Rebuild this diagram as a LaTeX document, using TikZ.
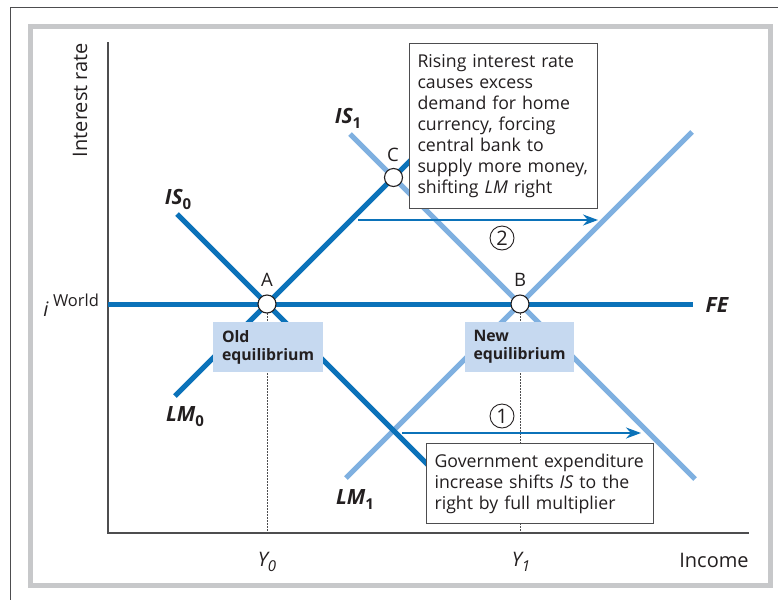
\documentclass[tikz,border=0pt]{standalone}
\usepackage{fontspec}
\setmainfont{Open Sans}
\usetikzlibrary{arrows.meta}
\definecolor{dkblue}{HTML}{0B72B9}
\definecolor{ltblue}{HTML}{7FB0E0}
\definecolor{eqfill}{HTML}{C6D9F0}
\definecolor{txt}{HTML}{231F20}
\definecolor{framegray}{HTML}{C7C8CA}
\definecolor{axisgray}{HTML}{4D4D4F}
\newcommand{\subidx}[1]{{\fontsize{15}{15}\selectfont\raisebox{-5pt}{#1}}}
\newcommand{\subup}[1]{{\fontsize{15}{15}\selectfont\upshape\raisebox{-5pt}{#1}}}
\begin{document}
\begin{tikzpicture}[x=1pt,y=-1pt,
  darkline/.style={dkblue, line width=5pt},
  lightline/.style={ltblue, line width=5pt},
  axisline/.style={axisgray, line width=1.2pt},
  guide/.style={axisgray, line width=0.9pt, dash pattern=on 1.5pt off 1.5pt},
  shiftarrow/.style={dkblue, line width=1.8pt, -{Stealth[length=15pt,width=11pt]}},
  eqpt/.style={circle, draw=txt, line width=1.1pt, fill=white, minimum size=18pt, inner sep=0pt},
  ptlab/.style={text=txt, font=\fontsize{18.5}{20}\selectfont},
  axlab/.style={text=txt, font=\fontsize{20}{22}\selectfont},
  curvelab/.style={text=txt, font=\fontsize{21}{24}\selectfont\bfseries\itshape},
  notebox/.style={draw=axisgray, line width=1.1pt, fill=white, text=txt, align=left, inner sep=8pt, font=\fontsize{17.7}{21}\selectfont},
  eqbox/.style={fill=eqfill, text=txt, align=left, inner sep=0pt, font=\fontsize{15.8}{18}\selectfont\bfseries},
  numcirc/.style={circle, draw=txt, line width=0.9pt, minimum size=24pt, inner sep=0pt, text=txt, font=\fontsize{20}{20}\selectfont}
]
\useasboundingbox (0,0) rectangle (778,600);
% frames
\draw[axisgray, line width=0.8pt] (778,7) -- (10,7) -- (10,600);
\draw[framegray, line width=5pt] (30,26) rectangle (770,585);
% axes
\coordinate (ytop) at (108,42);
\coordinate (orig) at (108,533);
\coordinate (xend) at (749,533);
\draw[axisline] (ytop) -- (orig) -- (xend);
% key points
\coordinate (Apos) at (267,304);
\coordinate (Bpos) at (520,304);
\coordinate (Cpos) at (393.5,177.5);
\coordinate (Y0ax) at (267,533);
\coordinate (Y1ax) at (520,533);
\draw[guide] (Apos) -- (Y0ax);
\draw[guide] (Bpos) -- (Y1ax);
% curves
\coordinate (IS1a) at (350,134);
\coordinate (IS1b) at (695,479);
\coordinate (LM1a) at (346,478);
\coordinate (LM1b) at (692,132);
\coordinate (IS0a) at (177,214);
\coordinate (IS0b) at (437,474);
\coordinate (LM0a) at (175,396);
\coordinate (LM0b) at (420,151);
\coordinate (FEa) at (108,304);
\coordinate (FEb) at (693,304);
\draw[lightline] (IS1a) -- (IS1b);
\draw[lightline] (LM1a) -- (LM1b);
\draw[darkline] (IS0a) -- (IS0b);
\draw[darkline] (LM0a) -- (LM0b);
\draw[darkline] (FEa) -- (FEb);
% shift arrows
\coordinate (arr1a) at (402,433);
\coordinate (arr1b) at (641,433);
\coordinate (arr2a) at (358,220);
\coordinate (arr2b) at (598,220);
\draw[shiftarrow] (arr1a) -- (arr1b);
\draw[shiftarrow] (arr2a) -- (arr2b);
\node[numcirc] (n1) at (502,416) {1};
\node[numcirc] (n2) at (502,238) {2};
% equilibrium points
\node[eqpt] (A) at (Apos) {};
\node[eqpt] (B) at (Bpos) {};
\node[eqpt] (C) at (Cpos) {};
\node[ptlab] (Alab) at (267,280) {A};
\node[ptlab] (Blab) at (520,280) {B};
\node[ptlab] (Clab) at (393,155) {C};
% boxes
\node[notebox, anchor=north west, text width=172pt, minimum height=165pt] (note2) at (409,43)
  {Rising interest rate\\causes excess\\demand for home\\currency, forcing\\central bank to\\supply more money,\\shifting \textit{LM} right};
\node[notebox, anchor=north west, text width=211pt, minimum height=80pt] (note1) at (426,443)
  {Government expenditure\\increase shifts \textit{IS} to the\\right by full multiplier};
\node[eqbox, minimum width=110pt, minimum height=50pt, text width=92pt] (oldeq) at (268,347) {Old\\equilibrium};
\node[eqbox, minimum width=109pt, minimum height=50pt, text width=92pt] (neweq) at (519.5,347) {New\\equilibrium};
% curve labels
\node[curvelab] (lIS1) at (348,118) {IS\subup{1}};
\node[curvelab] (lIS0) at (178,199) {IS\subup{0}};
\node[curvelab] (lLM0) at (185,417) {LM\subup{0}};
\node[curvelab] (lLM1) at (355,499) {LM\subup{1}};
\node[curvelab] (lFE) at (717,305) {FE};
% axis labels
\node[axlab, rotate=90] (ylab) at (80,100) {Interest rate};
\node[axlab] (xlab) at (714,560) {Income};
\node[axlab, font=\fontsize{20}{22}\selectfont\itshape] (Y0) at (267,562) {Y\subidx{0}};
\node[axlab, font=\fontsize{20}{22}\selectfont\itshape] (Y1) at (521,562) {Y\subidx{1}};
\node[axlab, font=\fontsize{20}{22}\selectfont\itshape] (iw) at (46,309) {i};
\node[axlab, font=\fontsize{16.5}{18}\selectfont] (world) at (76,300) {World};
\end{tikzpicture}
\end{document}
